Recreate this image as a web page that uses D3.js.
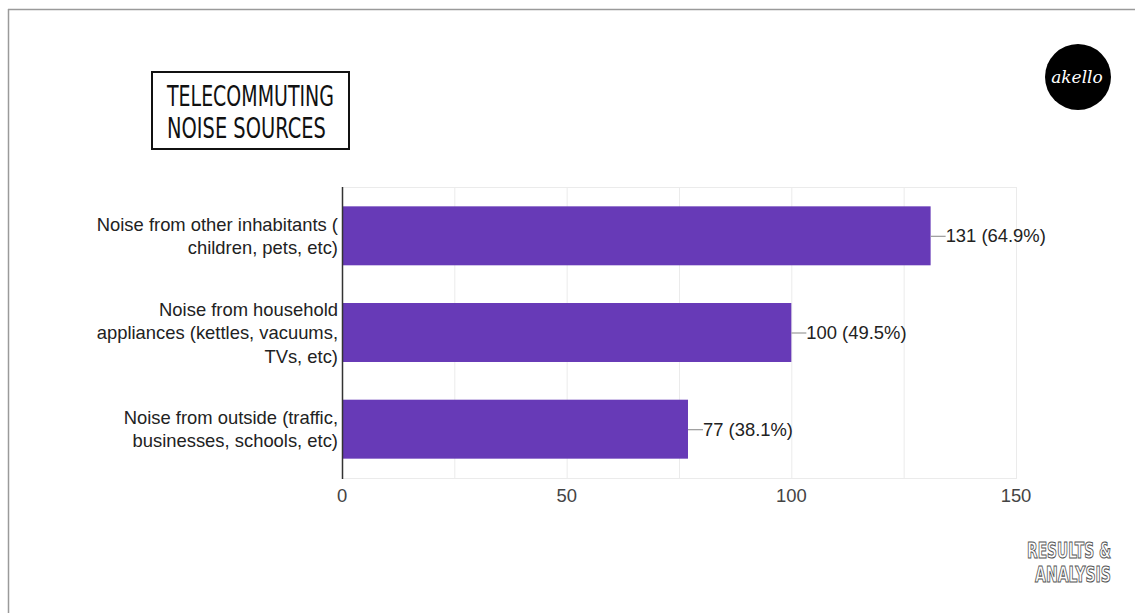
<!DOCTYPE html>
<html><head><meta charset="utf-8">
<script src="https://cdn.jsdelivr.net/npm/d3@7"></script>
<style>
html,body{margin:0;padding:0;background:#fff;}
svg{display:block;}
</style></head>
<body>
<svg id="chart" width="1135" height="613"></svg>
<script>
const categories = [
  ["Noise from other inhabitants (", "children, pets, etc)"],
  ["Noise from household", "appliances (kettles, vacuums,", "TVs, etc)"],
  ["Noise from outside (traffic,", "businesses, schools, etc)"]
];
const counts = [131, 100, 77];
const percents = ["64.9%", "49.5%", "38.1%"];
const xTicks = [0, 50, 100, 150];
const gridTicks = [25, 50, 75, 100, 125, 150];
const titleLines = ["TELECOMMUTING", "NOISE SOURCES"];
const footerLines = ["RESULTS &", "ANALYSIS"];

(function () {
const svg = d3.select("#chart");
const W = 1135, H = 613;

// condensed text via horizontal scaling, anchored at (ax, ay)
function condensed(parent, str, ax, ay, targetW, anchor, attrs) {
  const g = parent.append("g");
  const t = g.append("text").attr("x", 0).attr("y", 0).text(str);
  Object.entries(attrs).forEach(([k, v]) => t.attr(k, v));
  const nat = t.node().getComputedTextLength();
  const s = targetW / nat;
  const x0 = anchor === "end" ? ax - targetW : ax;
  g.attr("transform", `translate(${x0},${ay}) scale(${s},1)`);
  return g;
}

// slide frame
svg.append("line").attr("x1", 8).attr("x2", W).attr("y1", 9.5).attr("y2", 9.5)
  .attr("stroke", "#9a9a9a").attr("stroke-width", 1.5);
svg.append("line").attr("x1", 8.5).attr("x2", 8.5).attr("y1", 9).attr("y2", H)
  .attr("stroke", "#9a9a9a").attr("stroke-width", 1.5);

// title box
svg.append("rect").attr("x", 152).attr("y", 72).attr("width", 197).attr("height", 77)
  .attr("fill", "#fff").attr("stroke", "#111").attr("stroke-width", 2);
const titleW = [167, 159];
titleLines.forEach((d, i) => condensed(svg, d, 167, 106 + i * 32, titleW[i], "start", {
  "font-family": "'DejaVu Sans',sans-serif", "font-size": 29, "fill": "#111"
}));

// logo
svg.append("circle").attr("cx", 1078).attr("cy", 77).attr("r", 33).attr("fill", "#000");
svg.append("text").attr("x", 1077).attr("y", 83).attr("text-anchor", "middle")
  .attr("font-family", "'DejaVu Serif',serif").attr("font-style", "italic")
  .attr("font-size", 17).attr("fill", "#fff").text("akello");

// footer
const footW = [84, 76];
footerLines.forEach((d, i) => condensed(svg, d, 1111, 558 + i * 24, footW[i], "end", {
  "font-family": "'DejaVu Sans',sans-serif", "font-weight": "bold", "font-size": 21,
  "fill": "#fff", "stroke": "#555", "stroke-width": 1.1
}));

// chart
const pLeft = 342, pRight = 1016, pTop = 187, pBottom = 478;
const x = d3.scaleLinear().domain([0, 150]).range([pLeft, pRight]);
const y = d3.scaleBand().domain(d3.range(counts.length)).range([pTop, pBottom]).paddingInner(0.39).paddingOuter(0.2);

// grid
svg.append("g").selectAll("line").data(gridTicks).join("line")
  .attr("x1", d => x(d) + 0.5).attr("x2", d => x(d) + 0.5)
  .attr("y1", pTop).attr("y2", pBottom)
  .attr("stroke", "#ebebeb").attr("stroke-width", 1);
svg.append("line").attr("x1", pLeft).attr("x2", pRight + 1).attr("y1", pTop + 0.5).attr("y2", pTop + 0.5)
  .attr("stroke", "#ebebeb");
svg.append("line").attr("x1", pLeft).attr("x2", pRight + 1).attr("y1", pBottom + 0.5).attr("y2", pBottom + 0.5)
  .attr("stroke", "#ebebeb");

// bars
svg.append("g").selectAll("rect").data(counts).join("rect")
  .attr("x", x(0)).attr("y", (d, i) => y(i))
  .attr("width", d => x(d) - x(0)).attr("height", y.bandwidth())
  .attr("fill", "#673ab7");

// axis line
svg.append("line").attr("x1", pLeft + 0.5).attr("x2", pLeft + 0.5).attr("y1", pTop).attr("y2", pBottom + 1)
  .attr("stroke", "#333").attr("stroke-width", 1.5);

const FF = "'Liberation Sans',Arial,sans-serif";
const FS = 18.4;

// x tick labels
svg.append("g").selectAll("text").data(xTicks).join("text")
  .attr("x", d => x(d)).attr("y", 502)
  .attr("text-anchor", "middle")
  .attr("font-family", FF)
  .attr("font-size", FS).attr("fill", "#444")
  .text(d => d);

// y category labels
const lab = svg.append("g");
categories.forEach((lines, i) => {
  const cy = y(i) + y.bandwidth() / 2;
  const lh = 23.5;
  const y0 = cy - (lines.length - 1) * lh / 2 + 6.5;
  lab.append("g").selectAll("text").data(lines).join("text")
    .attr("x", 338).attr("y", (d, j) => y0 + j * lh)
    .attr("text-anchor", "end")
    .attr("font-family", FF)
    .attr("font-size", FS).attr("fill", "#222")
    .text(d => d);
});

// value labels with connectors
const vals = svg.append("g");
counts.forEach((c, i) => {
  const cy = y(i) + y.bandwidth() / 2;
  vals.append("line").attr("x1", x(c)).attr("x2", x(c) + 15)
    .attr("y1", cy + 0.5).attr("y2", cy + 0.5)
    .attr("stroke", "#999").attr("stroke-width", 1.2);
  vals.append("text").attr("x", x(c) + 15).attr("y", cy + 6.5)
    .attr("font-family", FF)
    .attr("font-size", FS).attr("fill", "#222")
    .text(`${c} (${percents[i]})`);
});
})();
</script>
</body></html>
